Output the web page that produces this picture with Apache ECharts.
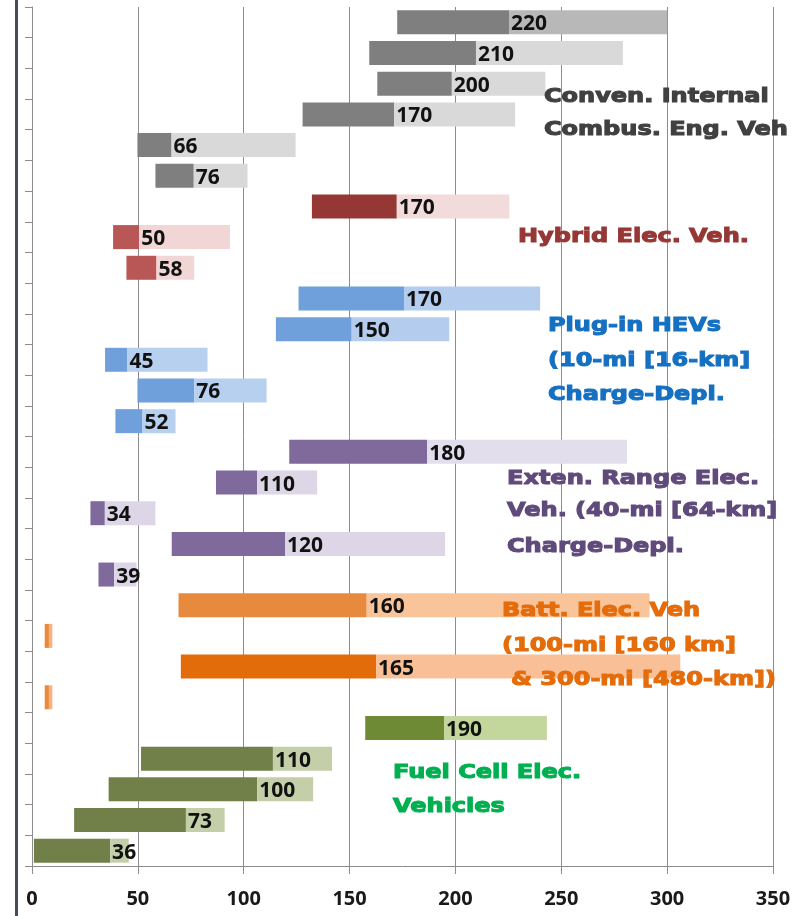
<!DOCTYPE html>
<html>
<head>
<meta charset="utf-8">
<script src="https://cdn.jsdelivr.net/npm/echarts@6/dist/echarts.min.js"></script>
<style>
  html, body { margin: 0; padding: 0; background: #ffffff; }
  #chart { width: 807px; height: 916px; }
</style>
</head>
<body>
<div id="chart"></div>
<script>
// ---- data (rows top to bottom) ----
const categories = [
  'ICEV 1', 'ICEV 2', 'ICEV 3', 'ICEV 4', 'ICEV 5', 'ICEV 6',
  'HEV 1', 'HEV 2', 'HEV 3',
  'PHEV 1', 'PHEV 2', 'PHEV 3', 'PHEV 4', 'PHEV 5',
  'EREV 1', 'EREV 2', 'EREV 3', 'EREV 4', 'EREV 5',
  'BEV 1', 'BEV 2', 'BEV 3', 'BEV 4',
  'FCEV 1', 'FCEV 2', 'FCEV 3', 'FCEV 4', 'FCEV 5'
];
const lows = [172.5, 159.3, 163.1, 127.8, 49.8, 58.3,
  132.2, 38.3, 44.6,
  125.9, 115.2, 34.5, 49.8, 39.4,
  121.5, 86.9, 27.6, 66.0, 31.4,
  69.2, 6.0, 70.3, 6.0,
  157.4, 51.5, 36.2, 19.9, 0.9];
const mids = [225.3, 209.7, 198.3, 171.1, 65.9, 76.4,
  172.3, 50.6, 58.8,
  175.7, 151.0, 45.1, 76.6, 52.2,
  186.7, 106.3, 34.4, 119.5, 38.8,
  158.1, 8.0, 162.5, 8.0,
  194.6, 113.8, 106.4, 72.7, 36.9];
const highs = [300.0, 279.1, 242.5, 228.2, 124.5, 101.8,
  225.5, 93.5, 76.6,
  240.0, 197.1, 82.9, 110.8, 67.8,
  281.0, 134.7, 58.3, 195.1, 49.4,
  291.7, 9.6, 306.2, 9.6,
  243.2, 141.7, 132.8, 91.0, 45.7];
const valueLabels = ['220', '210', '200', '170', '66', '76',
  '170', '50', '58',
  '170', '150', '45', '76', '52',
  '180', '110', '34', '120', '39',
  '160', '', '165', '',
  '190', '110', '100', '73', '36'];
const xTicks = [0, 50, 100, 150, 200, 250, 300, 350];

// ---- styles ----
const darkColors = ['#7f7f7f', '#7f7f7f', '#7f7f7f', '#7f7f7f', '#7f7f7f', '#7f7f7f',
  '#953735', '#b95656', '#b95656',
  '#6fa0dc', '#6fa0dc', '#6fa0dc', '#6fa0dc', '#6fa0dc',
  '#806a9c', '#806a9c', '#806a9c', '#806a9c', '#806a9c',
  '#e88a3e', '#e8893c', '#e36c0a', '#e8893c',
  '#6e8a35', '#708048', '#708048', '#708048', '#708048'];
const lightColors = ['#b8b8b8', '#d9d9d9', '#d9d9d9', '#d9d9d9', '#d9d9d9', '#d9d9d9',
  '#f2dcdb', '#f2d5d5', '#f2d5d5',
  '#b4cdee', '#b4cdee', '#b8d0ef', '#b8d0ef', '#b8d0ef',
  '#e3deeb', '#ddd6e6', '#ddd6e6', '#ddd6e6', '#ddd6e6',
  '#f9c49a', '#f7b27f', '#f9bf97', '#f7b27f',
  '#c3d69b', '#c4cfaa', '#c4cfaa', '#c4cfaa', '#c4cfaa'];

const annotations = [
  { color: '#404040', x: 544, lines: [['Conven. Internal', 97], ['Combus. Eng. Veh', 130]] },
  { color: '#953735', x: 518, lines: [['Hybrid Elec. Veh.', 237]] },
  { color: '#1670c2', x: 548, lines: [['Plug-in HEVs', 326], ['(10-mi [16-km]', 361], ['Charge-Depl.', 395]] },
  { color: '#604a7b', x: 507, lines: [['Exten. Range Elec.', 479], ['Veh. (40-mi [64-km]', 511], ['Charge-Depl.', 547]] },
  { color: '#e46c0a', x: 502, lines: [['Batt. Elec. Veh', 611], ['(100-mi [160 km]', 646]] },
  { color: '#e46c0a', x: 511, lines: [['& 300-mi [480-km])', 680]] },
  { color: '#00b050', x: 393, lines: [['Fuel Cell Elec.', 773], ['Vehicles', 807]] }
];

const graphics = [
  { type: 'rect', x: 15, y: 0, shape: { x: 0, y: 0, width: 3, height: 916 }, style: { fill: '#474c55' }, z: 100 }
];
annotations.forEach(a => {
  a.lines.forEach(([t, y]) => {
    graphics.push({
      type: 'text', x: a.x, y: y, scaleX: 1.2, z: 100,
      style: {
        text: t, fill: a.color, stroke: a.color, lineWidth: 1.1,
        font: 'bold 20px "DejaVu Sans"',
        align: 'left', verticalAlign: 'middle',
        textAlign: 'left', textVerticalAlign: 'middle'
      }
    });
  });
});

const chart = echarts.init(document.getElementById('chart'), null, { renderer: 'canvas' });
chart.setOption({
  animation: false,
  backgroundColor: '#ffffff',
  grid: { left: 32, right: 34, top: 7, bottom: 50, containLabel: false },
  xAxis: {
    type: 'value', min: 0, max: 350, interval: 50,
    axisLine: { show: true, lineStyle: { color: '#8c8c8c', width: 1 } },
    axisTick: { show: true, length: 8, lineStyle: { color: '#8c8c8c' } },
    splitLine: { show: true, lineStyle: { color: '#8c8c8c', width: 1 } },
    axisLabel: {
      margin: 23, color: '#1a1a1a', fontFamily: 'Noto Sans', fontWeight: 'bold', fontSize: 20,
      formatter: v => (xTicks.indexOf(v) >= 0 ? String(v) : '')
    }
  },
  yAxis: {
    type: 'category', data: categories, inverse: true,
    axisLine: { show: true, lineStyle: { color: '#8c8c8c', width: 1 } },
    axisTick: { show: true, length: 7, lineStyle: { color: '#8c8c8c' } },
    axisLabel: { show: false },
    splitLine: { show: false }
  },
  series: [
    {
      name: 'base', type: 'bar', stack: 'r', barWidth: 24, silent: true,
      itemStyle: { color: 'rgba(0,0,0,0)' },
      data: lows
    },
    {
      name: 'low-to-median', type: 'bar', stack: 'r', barWidth: 24,
      data: mids.map((m, i) => ({ value: m - lows[i], itemStyle: { color: darkColors[i] } }))
    },
    {
      name: 'median-to-high', type: 'bar', stack: 'r', barWidth: 24,
      data: highs.map((h, i) => ({ value: h - mids[i], itemStyle: { color: lightColors[i] } })),
      label: {
        show: true, position: 'insideLeft', distance: 2, offset: [0, 2],
        color: '#111111', fontFamily: 'Noto Sans', fontWeight: 'bold', fontSize: 21,
        formatter: p => valueLabels[p.dataIndex]
      }
    }
  ],
  graphic: graphics
});
</script>
</body>
</html>
